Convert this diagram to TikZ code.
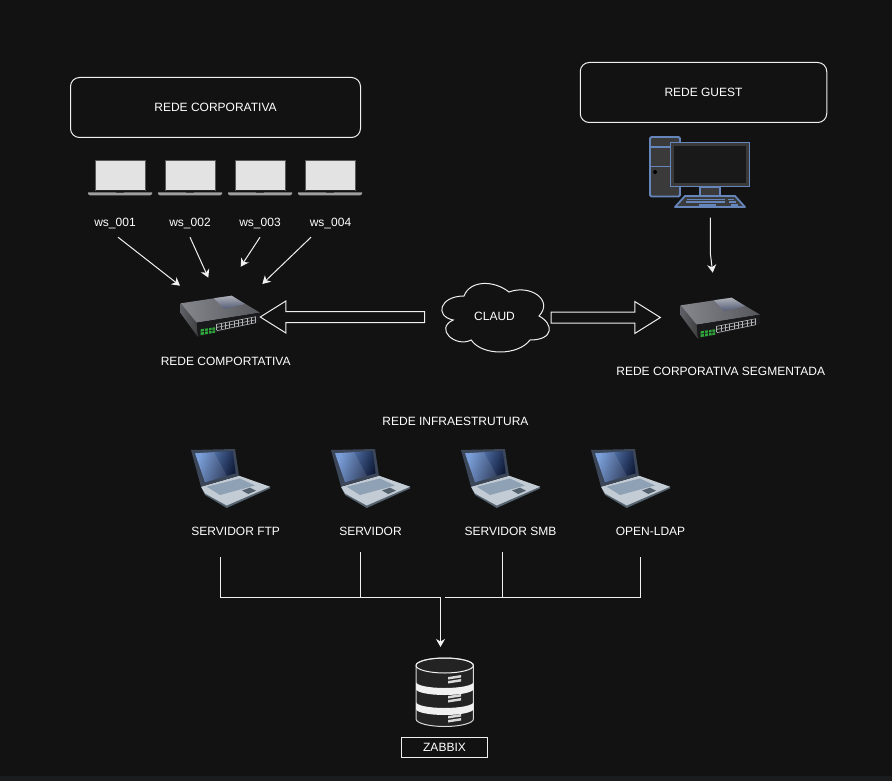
\documentclass[tikz,border=0pt]{standalone}
\usepackage{fontspec}
\setmainfont{Liberation Sans}
\usetikzlibrary{arrows.meta,shapes.arrows}
\definecolor{bgdark}{HTML}{121212}
\definecolor{bgstrip}{HTML}{1B1C1E}
\definecolor{linewhite}{HTML}{F0F0F0}
\definecolor{pcblue}{HTML}{6585BB}
\definecolor{pcgray}{HTML}{3A3A3A}
\definecolor{dbfill}{HTML}{232323}
\definecolor{swleftc}{HTML}{85878C}
\definecolor{swmidc}{HTML}{4C5878}
\definecolor{swrightc}{HTML}{55575D}
\definecolor{swlight}{HTML}{C6C9D2}
\definecolor{swside}{HTML}{5E6066}
\definecolor{swfront}{HTML}{1A1A1C}
\definecolor{swport}{HTML}{B4B6B8}
\definecolor{swled}{HTML}{2FA83A}
\definecolor{lapframe}{HTML}{3B4659}
\definecolor{lapbase}{HTML}{C3CBD4}
\definecolor{lapedge}{HTML}{55626F}
\definecolor{lapkeys}{HTML}{8FA2B5}
\definecolor{lapscreena}{HTML}{6C95D6}
\definecolor{lapscreenb}{HTML}{0F1A38}
\tikzset{
	lbl/.style={text=white,font=\fontsize{12}{14}\selectfont,inner sep=0pt},
	wslbl/.style={lbl,minimum height=27pt},
	srvlbl/.style={lbl,minimum height=42pt},
	titlebox/.style={draw=linewhite,line width=1pt,rounded corners=9pt,lbl},
	wire/.style={draw=linewhite,line width=1pt},
	arrowwire/.style={wire,-{Stealth[length=8pt,width=9pt,inset=2.5pt]}},
	bigarrow/.style={single arrow,draw=linewhite,line width=1pt,fill=bgdark,inner xsep=0pt,inner ysep=5pt,minimum width=31pt,single arrow head extend=10.5pt,single arrow tip angle=64},
	whitelaptop/.pic={
		\fill[gray!70!black] (-25.5,-15.5) rectangle (25.5,15.5);
		\fill[black!85] (-24.5,15) rectangle (24.5,16);
		\fill[white!89!black] (-24.5,-14.5) rectangle (24.5,14.5);
		\fill[gray!75] (-32,17) -- (32,17) -- (32,18.5) -- (30,20) -- (-30,20) -- (-32,18.5) -- cycle;
		\fill[gray!45!black] (-4,17) rectangle (4,18);
	},
	netswitch/.pic={
		\shade[left color=swside,right color=black!75] (-39.3,-12.7) -- (-23.3,6.7) -- (-22,21) -- (-39.3,-2.7) -- cycle;
		\shade[left color=swleftc,middle color=swmidc,right color=swrightc] (-39.3,-12.7) -- (11.7,-20.3) -- (40,-3.3) -- (-23.3,6.7) -- cycle;
		\shade[top color=swlight,bottom color=swmidc,opacity=0.75] (-6,-17.8) -- (11.7,-20.3) -- (25,-12) -- (4,-7) -- cycle;
		\fill[swfront] (-23.3,6.7) -- (40,-3.3) -- (40,6) -- (-22,21) -- cycle;
		\fill[swled] (-19.3,13.3) -- (-5,11.3) -- (-5,16.7) -- (-19.3,19) -- cycle;
		\draw[swfront,line width=0.6pt] (-15.5,12.8) -- (-15.5,18.4) (-11.5,12.2) -- (-11.5,17.8) (-8,11.7) -- (-8,17.2) (-19.3,16) -- (-5,14);
		\draw[swport,line width=0.6pt] (-3.3,8.3) -- (36,0.7) (-3.3,14.7) -- (36,6.7) (-3.3,11.4) -- (36,3.8);
		\foreach \p in {0,...,9}
		{
			\draw[swport,line width=0.6pt] ({-3.3+\p*4.3},{8.3-\p*0.83}) -- ++(0,6);
		}
	},
	graylaptop/.pic={
		\fill[lapedge] (11,37.7) -- (15,46) -- (36.7,59) -- (80,39.5) -- (80,37.7) -- cycle;
		\fill[lapbase] (11,37.7) -- (49,26.7) -- (80,37.7) -- (36.7,56.5) -- (15,44.5) -- cycle;
		\fill[lapkeys] (16.7,37.7) -- (50,29.5) -- (65,36.5) -- (30,46) -- cycle;
		\fill[lapedge] (52,41.5) -- (60,38.7) -- (66,41.7) -- (58.3,45) -- cycle;
		\fill[lapframe] (1,1) -- (45,0) -- (49,26.7) -- (11,37.7) -- cycle;
		\shade[left color=lapscreena,right color=lapscreenb,shading angle=70] (5,4.3) -- (42.7,2) -- (45.7,24.3) -- (15,33.3) -- cycle;
		\fill[white,opacity=0.1] (5,4.3) -- (24,3.2) -- (37,27) -- (15,33.3) -- cycle;
	},
	pcstation/.pic={
		\filldraw[draw=pcblue,fill=pcgray,line width=1.8pt,rounded corners=1.5pt] (650,137) rectangle (680,196.5);
		\draw[pcblue,line width=1.8pt] (650,147) -- (670,147) (650,166.5) -- (670,166.5);
		\fill[black] (655,172) circle (2pt);
		\filldraw[draw=pcblue,fill=pcgray,line width=1.8pt] (700,187) rectangle (720,196);
		\filldraw[draw=pcblue,fill=pcgray,line width=1.8pt,line join=round] (685,196) -- (735,196) -- (745,207) -- (675,207) -- cycle;
		\draw[pcblue,line width=1.4pt] (687,199.5) -- (725,199.5) (728,199.5) -- (734,199.5) (686,202) -- (725,202) (729,202) -- (736,202) (699,205) -- (716,205) (731,205) -- (738,205);
		\filldraw[draw=pcblue,fill=black!90,line width=1.8pt] (670.5,142.5) rectangle (749.5,186.5);
		\draw[pcgray,line width=2.5pt] (672.7,144.7) rectangle (747.3,184.3);
	},
	zabbixdb/.pic={
		\filldraw[draw=linewhite!90!black,fill=dbfill,line width=1pt] (-28.7,0) -- (-28.7,53.5) arc[start angle=180,end angle=360,x radius=28.7,y radius=-7.5] -- (28.7,0) arc[start angle=0,end angle=180,x radius=28.7,y radius=-7.5];
		\draw[linewhite,line width=1pt] (-28.7,0) arc[start angle=180,end angle=540,x radius=28.7,y radius=7.5];
		\foreach \b in {16.5,36.5}
		{
			\fill[linewhite] (-28.7,\b) arc[start angle=180,end angle=360,x radius=28.7,y radius=-6] -- ++(0,7) arc[start angle=360,end angle=180,x radius=28.7,y radius=-6] -- cycle;
		}
		\foreach \s in {13,32,52}
		{
			\fill[linewhite!90!black] (3.5,\s-1.5) -- (16.5,\s-3.5) -- (16.5,\s-1) -- (3.5,\s+1) -- cycle;
			\fill[linewhite!90!black] (3.5,\s+2.5) -- (16.5,\s+0.5) -- (16.5,\s+3) -- (3.5,\s+5) -- cycle;
		}
	},
}
\begin{document}
\begin{tikzpicture}[x=1pt,y=-1pt]
	\useasboundingbox (0,0) rectangle (892,781);
	\fill[bgdark] (0,0) rectangle (892,781);
	\fill[bgstrip] (0,776) rectangle (892,781);

	% top boxes
	\node[titlebox,minimum width=290pt,minimum height=60pt] (corpbox) at (215.5,107.5) {REDE CORPORATIVA};
	\node[titlebox,minimum width=246.5pt,minimum height=60pt] (guestbox) at (703.5,92.5) {REDE GUEST};

	% workstations
	\foreach \x/\t/\n in {120/115/1,190/190/2,260/260/3,330/330.5/4}
	{
		\pic at (\x,175.5) {whitelaptop};
		\node[wslbl] (ws\n) at (\t,223.5) {ws\_00\n};
	}

	% switches
	\pic at (220,316) {netswitch};
	\pic at (720,318) {netswitch};
	\pic at (0,0) {pcstation};
	\node[lbl] (swleft) at (225.7,361.5) {REDE COMPORTATIVA};
	\node[lbl] (swright) at (720.7,371.5) {REDE CORPORATIVA SEGMENTADA};

	\coordinate (hit1) at (180,285.7);
	\coordinate (hit2) at (208.3,277.7);
	\coordinate (hit3) at (240.7,266.7);
	\coordinate (hit4) at (262.3,284);
	\draw[arrowwire] ([xshift=3pt]ws1.south) -- (hit1);
	\draw[arrowwire] (ws2.south) -- (hit2);
	\draw[arrowwire] (ws3.south) -- (hit3);
	\draw[arrowwire] ([xshift=-19.5pt]ws4.south) -- (hit4);

	\coordinate (pcout) at (710.3,217.5);
	\coordinate (pcbend) at (710.3,253);
	\coordinate (hit5) at (712.7,272.7);
	\draw[arrowwire] (pcout) -- (pcbend) -- (hit5);

	% cloud
	\draw[linewhite,line width=1pt,fill=bgdark,shift={(434,276)},x=1.2pt,y=-0.8pt] (25,25)
		.. controls (5,25) and (0,50) .. (16,55)
		.. controls (0,66) and (18,90) .. (31,80)
		.. controls (40,100) and (70,100) .. (80,80)
		.. controls (100,80) and (100,60) .. (87.5,50)
		.. controls (100,30) and (80,10) .. (62.5,20)
		.. controls (50,5) and (30,5) .. (25,25) -- cycle;
	\node[lbl] (claud) at (494.5,316.5) {CLAUD};
	\node[bigarrow,minimum height=164.3pt,shape border rotate=180] (arrowleft) at (346.8,317) {};
	\node[bigarrow,minimum height=109.3pt] (arrowright) at (601.3,317.5) {};

	% infra
	\node[lbl] (infra) at (455.5,421.5) {REDE INFRAESTRUTURA};
	\foreach \x/\y in {190/449,330/449,460/449,590/449}
	{
		\pic at (\x,\y) {graylaptop};
	}
	\node[srvlbl] (srvftp) at (235.7,531) {SERVIDOR FTP};
	\node[srvlbl] (srvplain) at (370.5,531) {SERVIDOR};
	\node[srvlbl] (srvsmb) at (510.5,531) {SERVIDOR SMB};
	\node[srvlbl] (srvldap) at (650.5,531) {OPEN-LDAP};

	\coordinate (busa) at (220.5,597.5);
	\coordinate (busb) at (360.5,597.5);
	\coordinate (busc) at (502.5,597.5);
	\coordinate (busd) at (640.5,597.5);
	\coordinate (busmid) at (440.5,597.5);
	\coordinate (busgap) at (444.5,597.5);
	\coordinate (dbtop) at (440.5,647);
	\draw[wire,shorten <=5pt] (srvftp.south -| busa) -- (busa);
	\draw[wire] (srvplain.south -| busb) -- (busb);
	\draw[wire] (srvsmb.south -| busc) -- (busc);
	\draw[wire,shorten <=5pt] (srvldap.south -| busd) -- (busd);
	\draw[wire] (busa) -- (busmid);
	\draw[wire] (busgap) -- (busd);
	\draw[arrowwire] (busmid) -- (dbtop);

	% database
	\pic at (444.7,665.5) {zabbixdb};
	\node[draw=linewhite,line width=1pt,lbl,minimum width=85.5pt,minimum height=20pt] (zabbix) at (444.5,747.5) {ZABBIX};
\end{tikzpicture}
\end{document}
